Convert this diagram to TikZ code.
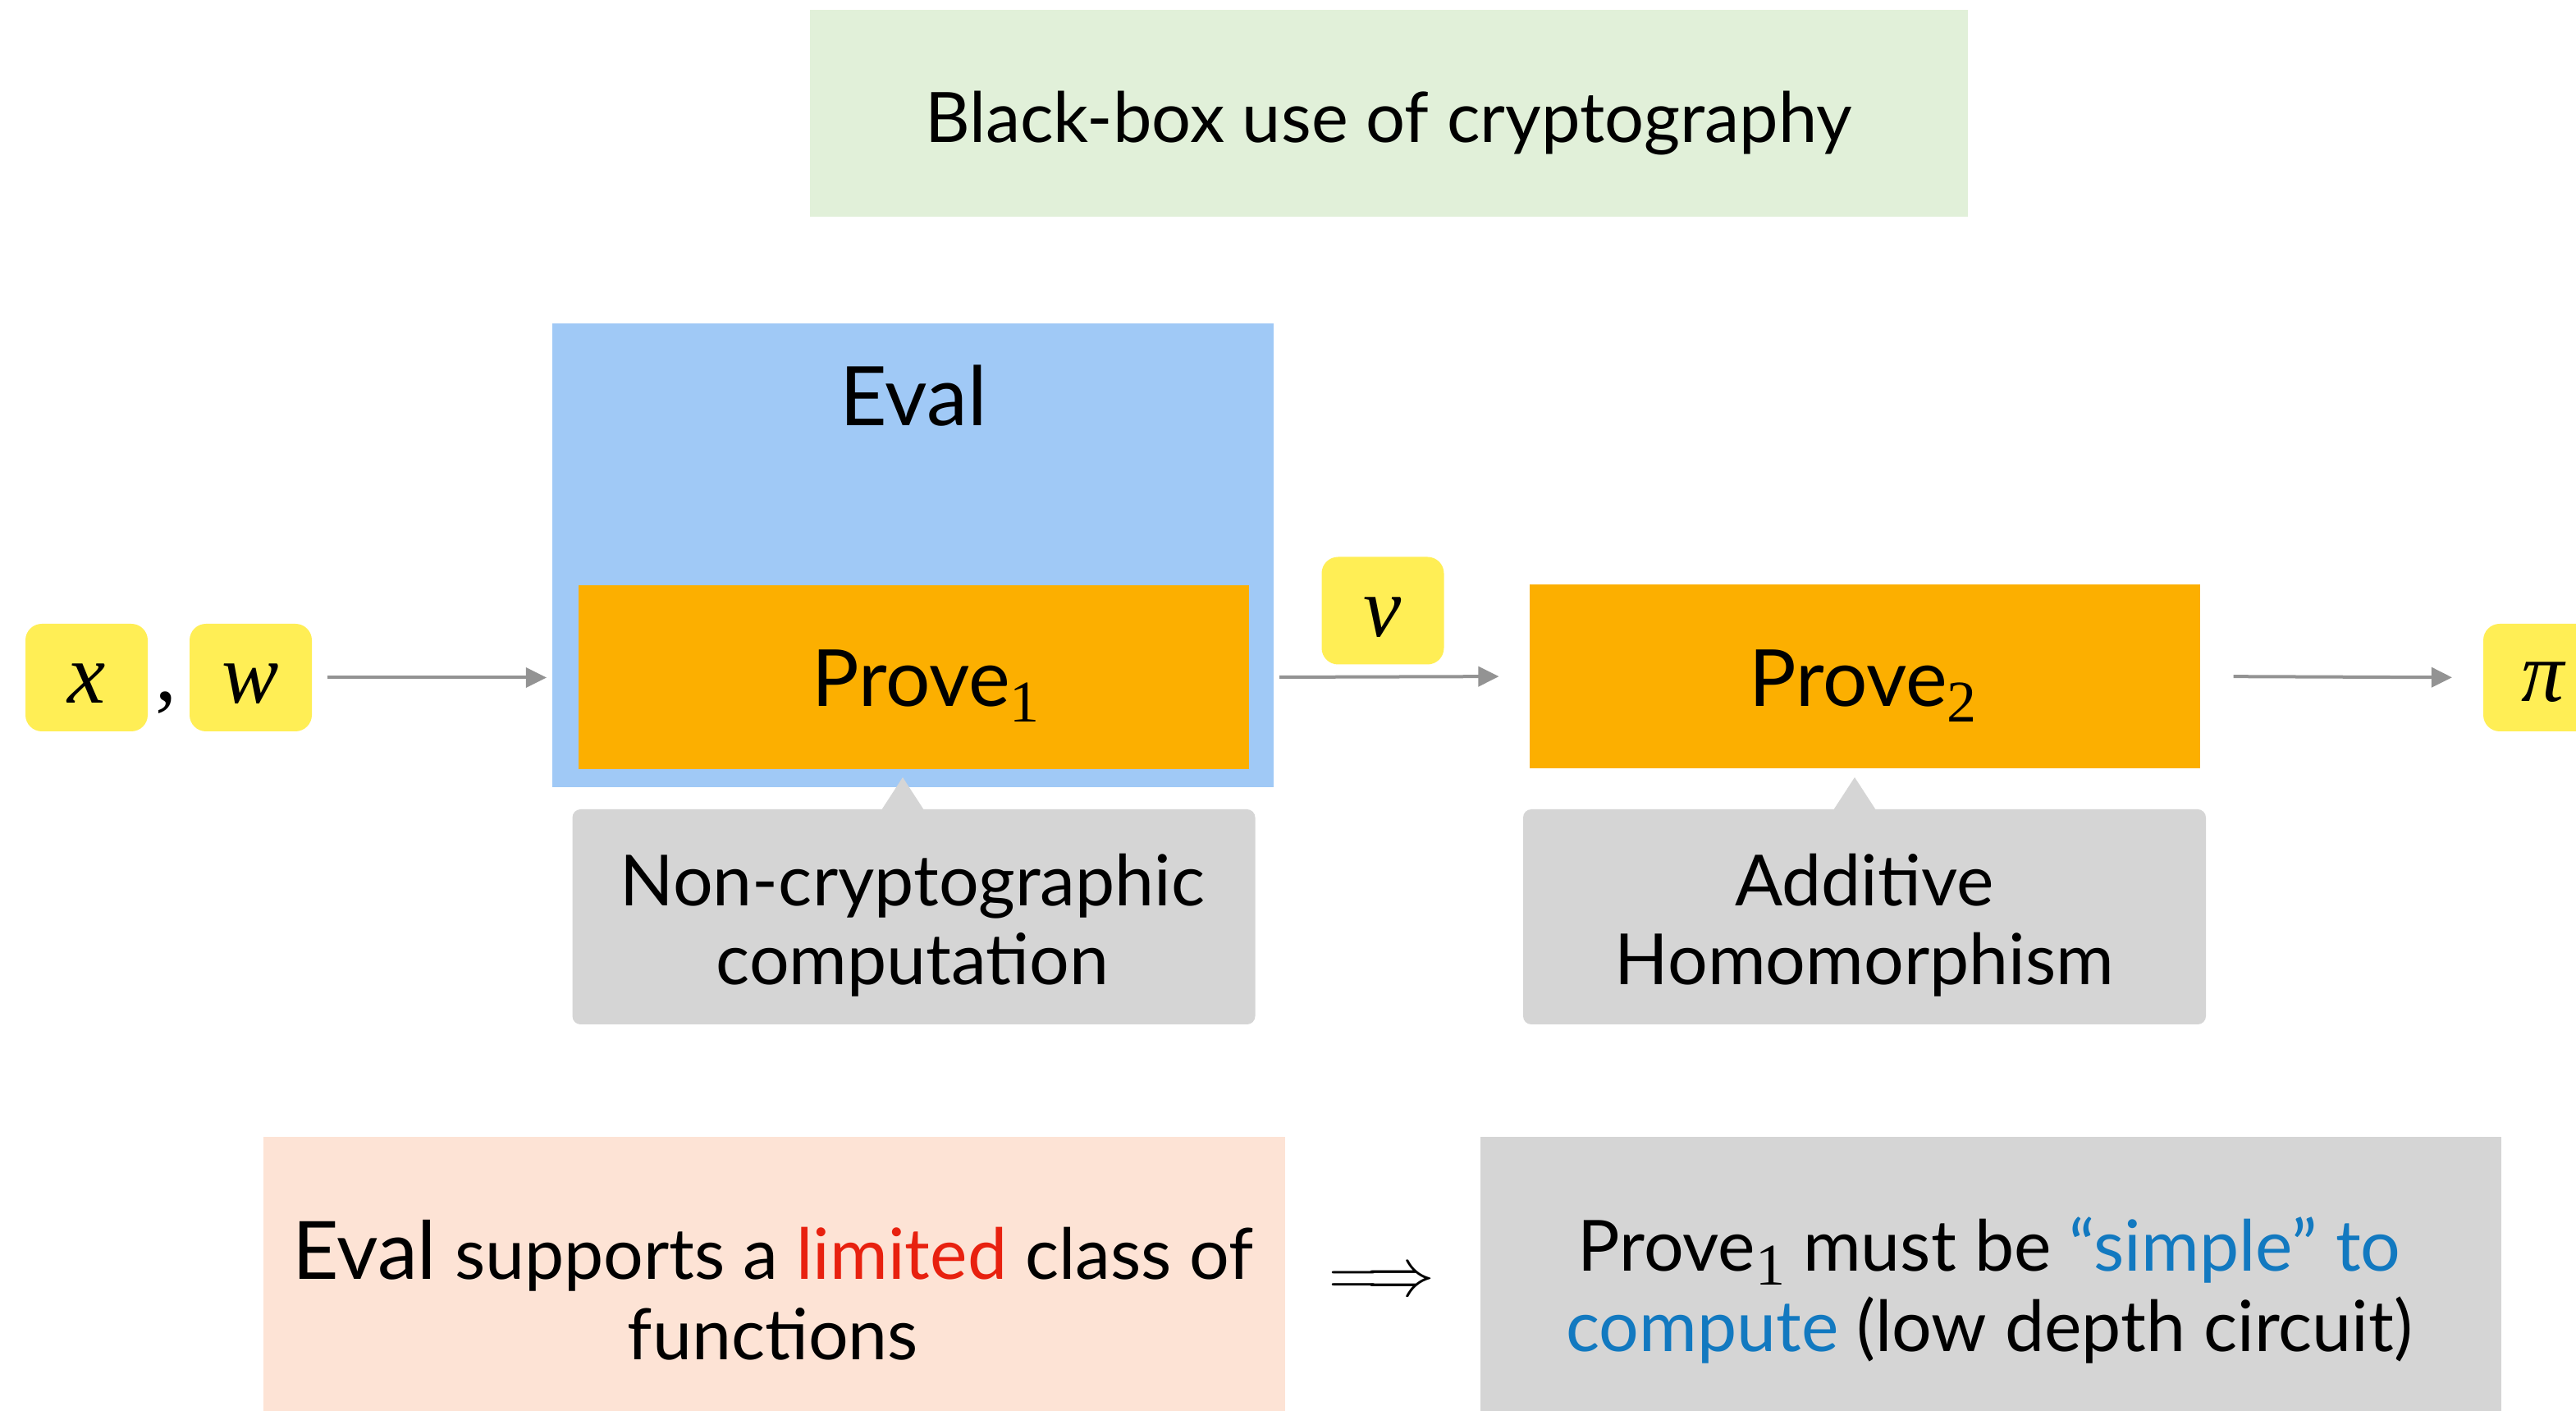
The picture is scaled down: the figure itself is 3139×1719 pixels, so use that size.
\documentclass[tikz,border=0pt]{standalone}
\usepackage{fontspec}
\setmainfont{Lato}
\newfontfamily\serf{Liberation Serif}
\usetikzlibrary{arrows.meta}
\definecolor{titlebg}{HTML}{E1F0D9}
\definecolor{bluebg}{HTML}{A0C9F6}
\definecolor{orangebg}{HTML}{FCAF00}
\definecolor{yellowbg}{HTML}{FFEE55}
\definecolor{graybg}{HTML}{D5D5D5}
\definecolor{arrgray}{HTML}{939393}
\definecolor{peachbg}{HTML}{FDE3D5}
\definecolor{redtxt}{HTML}{E8210F}
\definecolor{bluetxt}{HTML}{1279C0}
\newcommand{\subone}[1]{\raisebox{-0.2em}{\serf\fontsize{18}{18}\selectfont #1}}
\begin{document}
\begin{tikzpicture}[x=0.25pt,y=-0.25pt,
  plain/.style={inner sep=0pt, outer sep=0pt},
  ybox/.style={plain, fill=yellowbg, rounded corners=5pt, minimum width=37.25pt, minimum height=32.75pt},
  ytext/.style={plain, font=\serf\itshape\fontsize{26}{26}\selectfont},
  prbox/.style={plain, fill=orangebg, minimum width=204.25pt, minimum height=56pt},
  prtext/.style={plain, font=\fontsize{24}{24}\selectfont},
  callbox/.style={plain, fill=graybg, rounded corners=2.5pt, minimum width=208pt, minimum height=65.5pt},
  calltext/.style={plain, align=center, font=\fontsize{21.5}{24}\selectfont},
  arr/.style={draw=arrgray, line width=1pt, -{Triangle[length=6.3pt,width=6pt]}},
  bottext/.style={plain, align=center, font=\fontsize{21.5}{24.5}\selectfont},
]
\clip (0,0) rectangle (3139,1719);
\fill[white] (0,0) rectangle (3139,1719);

% title
\node[plain, fill=titlebg, minimum width=352.75pt, minimum height=63pt] (title) at (1692.5,138) {};
\node[plain, anchor=base, font=\fontsize{21.2}{24}\selectfont] (titletext) at (1692,174) {Black-box use of cryptography};

% inputs
\node[ybox] (x) at (105.5,825.5) {};
\node[ytext] (xt) at (105.5,833) {x};
\node[ybox] (w) at (305.5,825.5) {};
\node[ytext] (wt) at (305.5,833) {w};
\node[plain, font=\serf\fontsize{26}{26}\selectfont] (comma) at (202,856) {,};

% Eval box
\node[plain, fill=bluebg, minimum width=219.75pt, minimum height=141.25pt] (evalbox) at (1112.5,676.5) {};
\node[plain, font=\fontsize{25}{25}\selectfont] (evallabel) at (1113,482) {Eval};
\node[prbox] (prove1) at (1113.5,825) {};
\node[prtext] (p1text) at (1128,836) {Prove\subone{1}};

% v
\node[ybox] (v) at (1685,744) {};
\node[ytext] (vt) at (1685,752) {v};

% Prove2
\node[prbox] (prove2) at (2272,824) {};
\node[prtext] (p2text) at (2270,836) {Prove\subone{2}};

% pi
\node[ybox] (pi) at (3100.5,825.5) {};
\node[ytext] (pit) at (3099,831) {π};

% callouts
\node[callbox] (c1) at (1113.5,1117) {};
\node[calltext] (c1t) at (1112,1127) {Non-cryptographic\\computation};
\coordinate (c1tip) at (1100,947);
\coordinate (c1bl) at (1074,987);
\coordinate (c1br) at (1126,987);
\fill[graybg] (c1tip) -- (c1bl) -- (c1br) -- cycle;

\node[callbox] (c2) at (2272,1117) {};
\node[calltext] (c2t) at (2272,1127) {Additive\\Homomorphism};
\coordinate (c2tip) at (2260,947);
\coordinate (c2bl) at (2234,987);
\coordinate (c2br) at (2286,987);
\fill[graybg] (c2tip) -- (c2bl) -- (c2br) -- cycle;

% arrows
\draw[arr, shorten <=4.75pt, shorten >=1.75pt] (w.east) -- (w.east -| evalbox.west);
\draw[arr, shorten <=1.75pt, shorten >=9.25pt] (prove1.east -| evalbox.east) -- (prove2.west);
\draw[arr, shorten <=10.25pt, shorten >=9.5pt] (prove2.east) -- (pi.west);

% bottom boxes
\node[plain, fill=peachbg, minimum width=311.25pt, minimum height=88pt] (bl) at (943.5,1561) {};
\node[bottext] (bltext) at (942,1572) {{\fontsize{24.5}{24.5}\selectfont Eval} supports a \textcolor{redtxt}{limited} class of\\functions};
\node[plain, fill=graybg, minimum width=311pt, minimum height=88pt] (br) at (2426,1561) {};
\node[bottext] (brtext) at (2424,1572) {Prove\subone{1} must be \textcolor{bluetxt}{“simple” to}\\\textcolor{bluetxt}{compute} (low depth circuit)};
\node[plain, font=\fontsize{20}{20}\selectfont] (implies) at (1684,1563) {$\Longrightarrow$};
\end{tikzpicture}
\end{document}
